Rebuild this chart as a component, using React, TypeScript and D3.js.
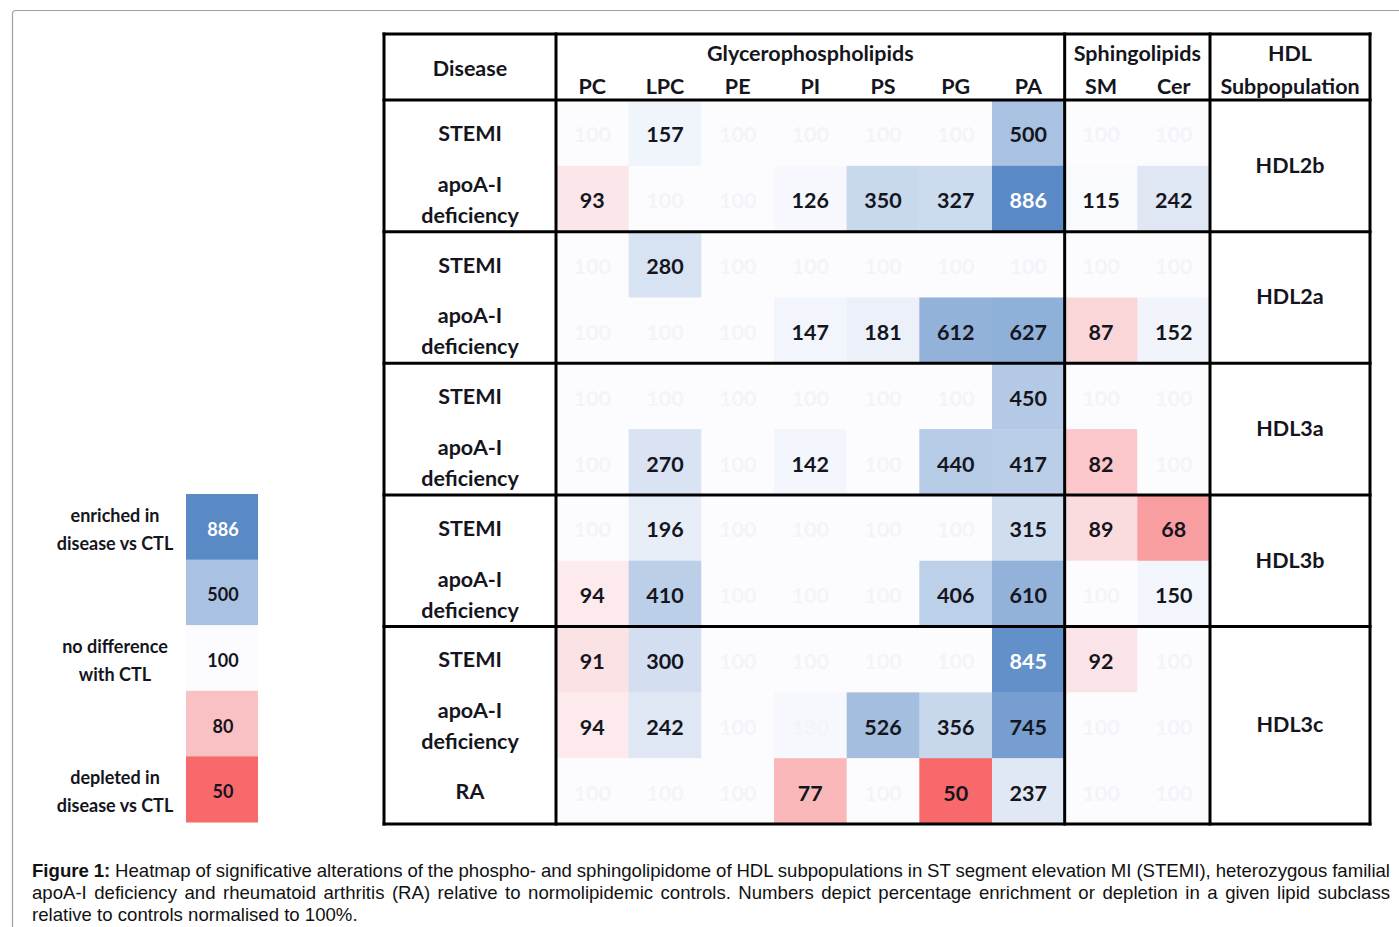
import React, { useEffect, useRef } from "react";
import * as d3 from "d3";

const lipids = ["PC", "LPC", "PE", "PI", "PS", "PG", "PA", "SM", "Cer"];
const groups = ["HDL2b", "HDL2a", "HDL3a", "HDL3b", "HDL3c"];
const rowDisease = [
  "STEMI", "apoA-I deficiency",
  "STEMI", "apoA-I deficiency",
  "STEMI", "apoA-I deficiency",
  "STEMI", "apoA-I deficiency",
  "STEMI", "apoA-I deficiency", "RA",
];
const rowGroup = [0, 0, 1, 1, 2, 2, 3, 3, 4, 4, 4];
const values = [
  [100, 157, 100, 100, 100, 100, 500, 100, 100],
  [93, 100, 100, 126, 350, 327, 886, 115, 242],
  [100, 280, 100, 100, 100, 100, 100, 100, 100],
  [100, 100, 100, 147, 181, 612, 627, 87, 152],
  [100, 100, 100, 100, 100, 100, 450, 100, 100],
  [100, 270, 100, 142, 100, 440, 417, 82, 100],
  [100, 196, 100, 100, 100, 100, 315, 89, 68],
  [94, 410, 100, 100, 100, 406, 610, 100, 150],
  [91, 300, 100, 100, 100, 100, 845, 92, 100],
  [94, 242, 100, 130, 526, 356, 745, 100, 100],
  [100, 100, 100, 77, 100, 50, 237, 100, 100],
];
// cells whose label is printed faint (not significant)
const faintCells = [[9, 3]];
const legendValues = [886, 500, 100, 80, 50];
const legendLabels = [
  { at: 0, lines: ["enriched in", "disease vs CTL"] },
  { at: 2, lines: ["no difference", "with CTL"] },
  { at: 4, lines: ["depleted in", "disease vs CTL"] },
];
const captionLines = [
  "Heatmap of significative alterations of the phospho- and sphingolipidome of HDL subpopulations in ST segment elevation MI (STEMI), heterozygous familial",
  "apoA-I deficiency and rheumatoid arthritis (RA) relative to normolipidemic controls. Numbers depict percentage enrichment or depletion in a given lipid subclass",
  "relative to controls normalised to 100%.",
];

const W = 1399;
const H = 927;
const FONT = "Lato, 'Open Sans', sans-serif";
const CAP_FONT = "'Liberation Sans', Arial, sans-serif";

export default function App() {
  const capRef = useRef<SVGGElement | null>(null);

  const color = d3
    .scaleLinear<string>()
    .domain([50, 100, 886])
    .range(["#F8696B", "#FCFCFF", "#5A8AC6"])
    .interpolate(d3.interpolateRgb);

  const tableLeft = 384;
  const diseaseRight = 556;
  const hdlRight = 1370;
  const top = 34;
  const headerBottom = 100;
  const bottom = 824;

  const x = d3
    .scaleBand<string>()
    .domain(lipids)
    .range([diseaseRight, 1210])
    .padding(0);
  const y = d3
    .scaleBand<number>()
    .domain(d3.range(values.length))
    .range([headerBottom, bottom])
    .padding(0);

  const ly = d3
    .scaleBand<number>()
    .domain(d3.range(legendValues.length))
    .range([494, 822]);

  const faint = (r: number, c: number) =>
    values[r][c] === 100 || faintCells.some(([fr, fc]) => fr === r && fc === c);

  useEffect(() => {
    if (!capRef.current) return;
    const target = 1390 - 32;
    d3.select(capRef.current)
      .selectAll<SVGTextElement, unknown>("text.justify")
      .each(function () {
        const el = this as SVGTextElement;
        el.setAttribute("word-spacing", "0");
        const len = el.getComputedTextLength();
        const txt = el.textContent || "";
        const spaces = (txt.match(/ /g) || []).length;
        if (spaces > 0) {
          el.setAttribute("word-spacing", String((target - len) / spaces));
        }
      });
  }, []);

  // group boundaries
  const groupStarts: number[] = [];
  rowGroup.forEach((g, i) => {
    if (i === 0 || rowGroup[i - 1] !== g) groupStarts.push(i);
  });

  const vLines = [tableLeft, diseaseRight, x("SM")!, x.range()[1], hdlRight];
  const hLines = [top, headerBottom, ...groupStarts.slice(1).map((i) => y(i)!), bottom];

  const glyMid = (x("PC")! + x("PA")! + x.bandwidth()) / 2;
  const sphMid = (x("SM")! + x("Cer")! + x.bandwidth()) / 2;
  const hdlMid = (x.range()[1] + hdlRight) / 2;

  return (
    <svg width={W} height={H} style={{ display: "block", position: "absolute", left: 0, top: 0 }}>
      <rect x={0} y={0} width={W} height={H} fill="#fff" />
      <path
        d={`M12.5,${H + 5} L12.5,14 Q12.5,10.5 16,10.5 L${W + 5},10.5`}
        fill="none"
        stroke="#a0a0a0"
        strokeWidth={1.2}
      />

      {/* cells */}
      <g>
        {values.map((row, r) =>
          row.map((v, c) => (
            <rect
              key={`c${r}-${c}`}
              x={x(lipids[c])}
              y={y(r)}
              width={x.bandwidth() + 0.5}
              height={y.bandwidth() + 0.5}
              fill={color(v)}
            />
          ))
        )}
      </g>
      <g fontFamily={FONT} fontWeight={700} fontSize={21.5} textAnchor="middle">
        {values.map((row, r) =>
          row.map((v, c) => (
            <text
              key={`t${r}-${c}`}
              x={x(lipids[c])! + x.bandwidth() / 2}
              y={y(r)! + y.bandwidth() / 2 + 9.5}
              fill={faint(r, c) ? "#f3f4fa" : v >= 800 ? "#ffffff" : "#151520"}
            >
              {v}
            </text>
          ))
        )}
      </g>

      {/* row labels */}
      <g fontFamily={FONT} fontWeight={700} fontSize={21.5} textAnchor="middle" fill="#151520">
        {rowDisease.map((d, r) => {
          const cx = (tableLeft + diseaseRight) / 2;
          const cy = y(r)! + y.bandwidth() / 2;
          const parts = d.split(" ");
          if (parts.length === 1)
            return (
              <text key={`rl${r}`} x={cx} y={cy + 8}>
                {d}
              </text>
            );
          return (
            <text key={`rl${r}`} x={cx}>
              <tspan x={cx} y={cy - 7}>{parts[0]}</tspan>
              <tspan x={cx} y={cy + 24}>{parts[1]}</tspan>
            </text>
          );
        })}
        {groups.map((g, gi) => {
          const rows = rowGroup.map((v, i) => (v === gi ? i : -1)).filter((i) => i >= 0);
          const y0 = y(rows[0])!;
          const y1 = y(rows[rows.length - 1])! + y.bandwidth();
          return (
            <text key={`g${gi}`} x={hdlMid} y={(y0 + y1) / 2 + 7}>
              {g}
            </text>
          );
        })}
      </g>

      {/* header */}
      <g fontFamily={FONT} fontWeight={700} fontSize={21.5} textAnchor="middle" fill="#151520">
        <text x={(tableLeft + diseaseRight) / 2} y={76}>Disease</text>
        <text x={glyMid} y={61}>Glycerophospholipids</text>
        <text x={sphMid} y={61}>Sphingolipids</text>
        <text x={hdlMid} y={61}>HDL</text>
        <text x={hdlMid} y={94}>Subpopulation</text>
        {lipids.map((l) => (
          <text key={l} x={x(l)! + x.bandwidth() / 2} y={94}>
            {l}
          </text>
        ))}
      </g>

      {/* grid lines */}
      <g stroke="#000" strokeWidth={3}>
        {vLines.map((vx, i) => (
          <line key={`v${i}`} x1={vx} x2={vx} y1={top - 1.5} y2={bottom + 1.5} />
        ))}
        {hLines.map((hy, i) => (
          <line key={`h${i}`} x1={tableLeft - 1.5} x2={hdlRight + 1.5} y1={hy} y2={hy} />
        ))}
      </g>

      {/* legend */}
      <g>
        {legendValues.map((v, i) => (
          <g key={`l${i}`}>
            <rect x={186} y={ly(i)} width={72} height={ly.bandwidth() + 0.5} fill={color(v)} />
            <text
              x={223}
              y={ly(i)! + ly.bandwidth() / 2 + 9}
              textAnchor="middle"
              fontFamily={FONT}
              fontWeight={700}
              fontSize={18}
              fill={v >= 800 ? "#fff" : "#151520"}
            >
              {v}
            </text>
          </g>
        ))}
        {legendLabels.map((lab, i) => {
          const cy = ly(lab.at)! + ly.bandwidth() / 2;
          return (
            <text
              key={`ll${i}`}
              textAnchor="middle"
              fontFamily={FONT}
              fontWeight={700}
              fontSize={18}
              fill="#151520"
            >
              <tspan x={115} y={cy - 5}>{lab.lines[0]}</tspan>
              <tspan x={115} y={cy + 23}>{lab.lines[1]}</tspan>
            </text>
          );
        })}
      </g>

      {/* caption */}
      <g ref={capRef} fontFamily={CAP_FONT} fontSize={18.6} fill="#111">
        <text className="justify" x={32} y={877}>
          <tspan fontWeight={700}>Figure 1:</tspan> {captionLines[0]}
        </text>
        <text className="justify" x={32} y={899}>
          {captionLines[1]}
        </text>
        <text x={32} y={921}>{captionLines[2]}</text>
      </g>
    </svg>
  );
}
